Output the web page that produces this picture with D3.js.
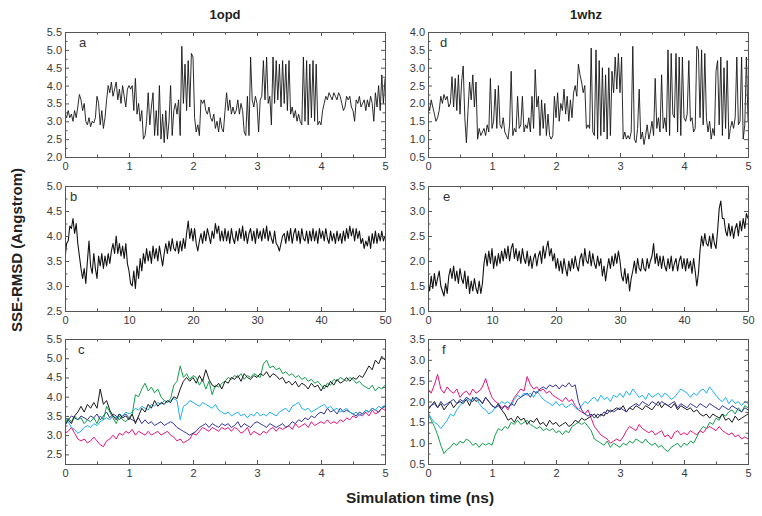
<!DOCTYPE html>
<html><head><meta charset="utf-8">
<script src="https://cdn.jsdelivr.net/npm/d3@7"></script>
<style>
html,body{margin:0;padding:0;background:#fff;}
svg{display:block;}
text{font-family:"Liberation Sans",Arial,sans-serif;}
</style></head>
<body>
<svg id="chart" width="762" height="516"></svg>
<script>
// ---------------- DATA ----------------
const columnTitles = ["1opd", "1whz"];
const panelLetters = ["a", "b", "c", "d", "e", "f"];
const yAxisLabel = "SSE-RMSD (Angstrom)";
const xAxisLabel = "Simulation time (ns)";

const xTicksShort = [0, 1, 2, 3, 4, 5];
const xTicksLong = [0, 10, 20, 30, 40, 50];
const yTicksA = [2.0, 2.5, 3.0, 3.5, 4.0, 4.5, 5.0, 5.5];
const yTicksB = [2.5, 3.0, 3.5, 4.0, 4.5, 5.0];
const yTicksC = [2.5, 3.0, 3.5, 4.0, 4.5, 5.0, 5.5];
const yTicksD = [0.5, 1.0, 1.5, 2.0, 2.5, 3.0, 3.5, 4.0];
const yTicksE = [1.0, 1.5, 2.0, 2.5, 3.0, 3.5];
const yTicksF = [0.5, 1.0, 1.5, 2.0, 2.5, 3.0, 3.5];

// panel a: 1opd, 0-5 ns (samples every 0.025 ns)
const seriesA = [3.2,3.1,3.3,3.1,3.2,3.0,3.3,3.1,3.4,3.75,3.6,3.3,3.5,3.0,2.9,3.1,2.85,3.0,2.95,3.1,
3.7,3.5,2.9,3.3,2.8,3.1,3.6,4.0,3.8,4.1,3.7,3.9,4.1,3.6,3.9,3.5,4.0,3.7,3.4,3.9,
4.0,3.9,4.0,3.3,4.2,3.2,3.5,3.0,3.3,2.5,2.6,3.0,3.8,2.9,3.4,3.8,2.6,3.3,2.6,4.0,
2.5,3.2,2.4,3.3,2.5,3.0,4.0,2.6,3.3,3.5,3.2,3.6,2.6,5.1,3.5,4.6,3.3,4.7,3.4,4.9,
4.8,3.1,2.7,2.9,2.6,3.6,3.5,3.6,3.3,3.2,3.4,3.1,3.0,3.2,2.8,3.0,2.7,3.1,2.8,2.7,
3.3,3.8,3.3,3.6,3.2,3.4,3.2,3.3,3.6,3.2,3.5,3.3,2.7,2.6,3.7,2.6,4.8,3.6,3.4,3.7,
3.5,2.7,3.6,3.7,4.7,3.6,4.8,3.5,3.7,2.9,4.8,3.5,4.7,3.6,4.6,3.4,4.7,3.5,4.6,3.3,
4.7,3.2,3.4,3.1,3.3,3.0,3.2,3.0,2.9,4.8,3.0,4.7,2.9,4.6,3.1,4.7,3.0,4.6,2.9,3.0,
2.9,3.3,3.5,3.7,3.6,3.8,3.7,3.6,3.8,3.7,3.6,3.8,3.7,3.5,3.3,3.4,3.7,3.6,3.7,3.4,
3.3,3.0,3.6,3.5,3.7,3.4,3.5,3.6,3.3,3.6,3.4,3.7,3.5,3.0,3.8,3.4,4.0,3.3,4.3,3.5,
4.2];

// panel d: 1whz, 0-5 ns (samples every 0.025 ns)
const seriesD = [2.0,1.8,2.1,1.9,1.7,1.5,1.6,1.8,2.2,2.0,2.25,2.1,2.2,1.9,2.0,2.75,1.9,2.7,1.8,2.8,
1.7,2.6,3.05,1.6,0.9,1.8,2.6,2.1,2.8,1.9,2.6,1.0,1.3,1.1,1.2,1.3,1.1,1.4,1.2,2.7,
1.3,1.5,2.4,1.3,2.5,1.4,1.3,1.6,1.2,1.1,1.0,1.4,2.9,1.1,1.3,1.2,2.2,1.3,1.4,2.2,
1.2,1.4,1.3,1.6,1.2,2.2,1.3,2.95,1.9,2.2,1.1,2.1,1.3,2.0,1.1,1.7,1.1,1.0,1.1,2.2,
1.6,2.3,1.5,2.0,1.8,2.4,1.7,2.2,1.5,2.1,1.6,2.3,2.5,2.2,3.1,2.8,2.6,2.3,2.5,1.3,
1.4,1.3,3.55,1.2,1.1,3.5,1.0,3.2,1.1,3.0,1.2,2.8,1.0,3.0,1.1,2.9,2.3,3.3,2.4,3.4,
2.3,3.3,1.0,1.2,1.0,1.1,1.0,1.2,3.6,1.0,0.9,1.3,2.4,1.0,1.2,0.85,1.1,1.4,1.0,1.2,
1.5,1.1,2.7,1.3,1.6,1.2,2.8,1.3,1.6,1.2,3.5,1.1,3.4,1.7,1.6,3.4,1.2,3.3,1.1,3.3,
1.6,1.5,1.7,3.2,1.5,1.6,1.2,1.3,3.6,3.5,1.6,3.5,1.4,3.4,1.6,1.2,1.5,1.0,1.3,1.1,
2.9,3.2,1.4,3.3,1.1,3.0,1.3,3.2,1.0,1.3,1.5,1.3,1.6,3.3,1.4,1.5,3.3,1.0,1.4,3.3,
1.5];

// panel b: 1opd, 0-50 ns (samples every 0.25 ns)
const seriesB = [3.55,3.85,3.9,4.2,4.15,4.35,4.05,4.25,3.85,
3.6,3.35,3.15,3.35,3.05,3.5,3.9,
3.4,3.25,3.65,3.35,3.15,3.6,3.4,3.65,3.35,3.6,3.4,3.65,3.45,3.7,
3.85,3.65,4.0,3.65,3.85,3.6,3.8,3.55,3.85,3.45,
3.3,3.05,3.0,3.3,2.95,3.4,3.15,3.55,3.3,3.65,
3.45,3.75,3.5,3.7,3.45,3.8,3.55,3.75,3.5,3.8,
3.6,3.4,3.65,3.85,3.65,3.9,3.7,3.95,3.75,3.7,3.9,3.65,3.9,3.7,3.95,3.75,4.05,4.3,3.95,4.15,
3.9,4.15,3.85,3.7,3.9,4.05,3.85,4.1,3.9,4.15,4.0,3.85,4.1,3.95,4.25,4.05,4.2,3.9,4.1,3.9,
4.15,3.9,4.1,3.85,4.15,3.95,3.85,4.1,3.9,4.15,3.95,4.2,3.9,4.1,3.85,4.05,4.15,3.9,4.1,3.85,
4.15,3.95,4.1,3.9,4.15,3.95,4.2,3.9,4.1,3.95,3.85,4.1,3.85,3.8,3.7,3.85,4.0,4.05,3.85,4.1,
3.9,4.15,3.85,4.05,4.15,3.9,4.1,3.85,4.15,3.95,3.9,4.1,3.85,4.1,3.9,4.15,3.9,4.1,3.85,4.15,
3.95,4.1,3.9,4.15,3.95,3.85,4.1,3.9,4.05,3.85,4.1,3.9,4.05,3.85,4.1,3.9,4.15,3.95,4.2,4.0,
4.15,3.9,4.15,3.95,4.1,3.85,3.95,3.75,3.9,3.8,4.0,3.75,4.05,3.85,4.1,3.85,4.05,3.9,4.1,3.9,4.0];

// panel e: 1whz, 0-50 ns (samples every 0.25 ns)
const seriesE = [1.6,1.4,1.7,1.45,1.75,1.5,1.65,1.8,1.5,1.4,1.3,1.55,1.35,1.7,1.85,1.65,1.9,1.6,1.8,1.55,
1.85,1.65,1.55,1.8,1.45,1.7,1.35,1.6,1.4,1.65,1.45,1.35,1.6,1.35,1.55,
1.95,2.15,1.9,2.2,1.95,2.25,1.85,2.1,1.9,2.15,1.95,2.2,2.0,2.25,2.05,2.3,2.0,2.25,2.35,2.05,
2.25,2.0,2.2,1.95,2.25,2.05,1.95,2.2,1.9,2.1,1.85,2.05,2.15,1.9,2.1,2.2,1.95,2.3,2.05,2.25,
2.4,2.1,2.25,2.0,2.15,
1.85,2.05,1.8,2.0,1.75,2.05,1.85,1.7,2.0,1.8,2.05,1.85,2.1,1.9,1.8,2.05,2.15,1.9,2.25,2.0,
1.95,2.2,1.9,2.15,1.95,1.85,2.1,1.9,2.05,1.7,1.9,1.6,1.85,2.05,1.85,2.1,1.9,2.15,1.95,2.2,
2.0,1.7,1.6,1.85,1.55,1.75,1.4,1.65,1.8,2.0,1.75,2.05,1.85,1.8,2.05,1.85,1.8,2.05,1.85,2.0,
2.1,2.35,1.95,2.15,1.9,2.1,1.85,2.1,1.9,1.8,2.05,1.85,2.1,1.8,1.95,2.05,1.8,2.0,2.1,1.85,
2.05,1.8,2.05,1.85,2.0,1.75,2.05,1.8,
1.5,1.75,2.2,2.5,2.3,2.55,2.35,2.3,2.5,2.25,2.55,2.35,2.25,2.6,3.05,3.2,2.85,2.85,2.6,2.5,
2.75,2.5,2.7,2.45,2.65,2.75,2.5,2.8,2.6,2.85,2.65,2.95,2.85];

// panel c: 1opd, five runs, 0-5 ns (samples every 0.05 ns)
const cBlack = [3.25,3.4,3.3,3.5,3.6,3.75,3.6,3.8,3.7,3.85,3.7,4.2,3.8,3.9,3.65,3.5,3.4,3.55,3.45,3.5,
3.4,3.55,3.3,3.5,3.7,3.6,3.8,3.7,3.9,3.75,3.85,3.8,3.9,3.85,4.0,3.95,4.2,4.4,4.5,4.4,
4.5,4.35,4.55,4.4,4.7,4.45,4.3,4.25,4.35,4.2,4.4,4.35,4.5,4.45,4.55,4.4,4.6,4.5,4.45,4.55,
4.5,4.6,4.55,4.65,4.5,4.6,4.55,4.45,4.5,4.35,4.4,4.3,4.4,4.25,4.35,4.3,4.2,4.35,4.25,4.3,
4.15,4.3,4.25,4.4,4.3,4.45,4.35,4.4,4.5,4.4,4.5,4.45,4.55,4.5,4.65,4.8,4.7,4.95,4.85,5.05,4.95];
const cGreen = [3.3,3.45,3.35,3.5,3.4,3.45,3.3,3.4,3.35,3.45,3.3,3.5,3.4,3.75,3.6,3.45,3.3,3.5,3.4,3.35,
3.45,3.55,4.05,4.0,4.2,4.35,4.15,4.25,4.1,4.2,4.0,3.9,3.85,3.95,4.3,4.4,4.8,4.5,4.6,4.45,
4.55,4.5,4.3,4.45,4.2,4.4,4.05,4.3,4.25,4.35,4.4,4.5,4.45,4.55,4.5,4.6,4.45,4.55,4.5,4.6,
4.55,4.5,4.85,4.95,4.75,4.8,4.7,4.75,4.6,4.65,4.55,4.6,4.5,4.55,4.45,4.5,4.4,4.45,4.35,4.4,
4.3,4.2,4.35,4.3,4.45,4.4,4.5,4.45,4.4,4.5,4.45,4.35,4.4,4.3,4.25,4.2,4.3,4.15,4.25,4.2,4.3];
const cCyan = [3.3,3.35,3.2,3.15,3.05,3.1,3.2,3.25,3.2,3.3,3.25,3.35,3.4,3.45,3.4,3.5,3.45,3.55,3.5,3.6,
3.55,3.6,3.7,3.65,3.75,3.7,3.65,3.8,3.75,3.85,3.8,3.9,3.85,3.9,3.95,3.9,3.4,3.75,3.8,3.9,
3.85,3.8,3.75,3.85,3.8,3.75,3.7,3.8,3.65,3.6,3.55,3.6,3.5,3.55,3.6,3.5,3.55,3.45,3.55,3.5,
3.6,3.5,3.55,3.5,3.6,3.55,3.5,3.6,3.65,3.7,3.6,3.75,3.8,3.85,3.7,3.65,3.7,3.6,3.65,3.7,
3.75,3.8,3.7,3.75,3.65,3.7,3.6,3.65,3.7,3.6,3.55,3.6,3.5,3.55,3.65,3.6,3.7,3.65,3.75,3.7,3.8];
const cNavy = [3.45,3.4,3.5,3.45,3.4,3.5,3.45,3.4,3.5,3.45,3.55,3.4,3.5,3.6,3.45,3.55,3.5,3.4,3.5,3.55,
3.45,3.4,3.35,3.45,3.3,3.4,3.3,3.35,3.25,3.3,3.35,3.25,3.3,3.35,3.3,3.2,3.15,3.1,3.05,3.0,
3.05,3.1,3.2,3.25,3.3,3.2,3.3,3.25,3.2,3.3,3.25,3.3,3.2,3.25,3.35,3.2,3.3,3.25,3.2,3.3,
3.35,3.3,3.25,3.2,3.3,3.25,3.2,3.25,3.3,3.2,3.25,3.35,3.3,3.4,3.35,3.45,3.4,3.5,3.45,3.55,
3.6,3.55,3.7,3.6,3.65,3.55,3.7,3.6,3.65,3.6,3.55,3.5,3.6,3.55,3.65,3.6,3.7,3.65,3.6,3.7,3.75];
const cMagenta = [3.05,3.1,3.2,3.05,2.9,2.85,2.9,2.8,2.85,2.95,2.85,2.75,2.7,2.85,2.9,3.0,2.9,3.05,3.0,3.1,
3.05,3.15,3.0,3.1,3.05,3.0,3.1,3.0,3.05,3.1,3.0,3.05,3.1,3.0,2.95,2.85,2.9,2.8,2.85,2.9,
3.05,3.0,3.1,3.2,3.15,3.1,3.2,3.15,3.1,3.2,3.15,3.2,3.1,3.2,3.15,3.05,3.1,3.2,3.0,3.1,
3.05,3.0,3.1,3.05,3.15,3.2,3.1,3.2,3.15,3.2,3.25,3.15,3.3,3.2,3.25,3.3,3.2,3.35,3.25,3.3,
3.35,3.3,3.4,3.3,3.35,3.3,3.4,3.35,3.45,3.4,3.5,3.45,3.55,3.5,3.6,3.5,3.65,3.55,3.6,3.7,3.65];

// panel f: 1whz, five runs, 0-5 ns (samples every 0.05 ns)
const fBlack = [1.8,1.9,2.0,1.85,1.95,1.8,1.9,2.0,1.85,1.95,2.0,1.95,2.05,1.9,2.1,2.0,2.05,1.95,2.1,2.0,
1.9,1.85,1.95,1.8,1.7,1.55,1.6,1.5,1.65,1.55,1.6,1.45,1.55,1.5,1.6,1.45,1.5,1.4,1.55,1.45,
1.5,1.4,1.45,1.5,1.4,1.45,1.55,1.5,1.6,1.55,1.6,1.65,1.7,1.6,1.7,1.65,1.8,1.75,1.8,1.85,
1.8,1.9,1.75,1.85,1.8,1.9,1.85,1.8,1.9,1.85,1.8,1.9,2.0,1.85,1.95,1.9,1.85,1.95,1.8,1.9,
1.85,1.8,1.85,1.75,1.8,1.7,1.65,1.7,1.6,1.7,1.65,1.6,1.7,1.55,1.6,1.5,1.65,1.55,1.6,1.65,1.7];
const fGreen = [1.7,1.55,1.4,1.2,0.95,0.75,0.85,0.9,1.0,0.95,1.05,1.0,1.1,1.05,0.95,1.0,0.9,1.0,0.95,1.0,
0.95,1.2,1.35,1.3,1.4,1.35,1.5,1.45,1.55,1.45,1.5,1.55,1.45,1.4,1.35,1.4,1.3,1.35,1.3,1.35,
1.25,1.3,1.2,1.3,1.25,1.4,1.45,1.5,1.45,1.5,1.4,1.3,1.1,1.05,1.0,0.95,1.05,0.9,1.0,0.95,
0.9,1.0,0.95,1.05,1.0,1.1,1.05,1.0,1.1,1.0,0.95,1.0,0.9,0.95,0.85,0.8,0.9,0.95,1.0,0.9,
1.0,0.95,1.05,1.0,1.15,1.3,1.4,1.35,1.5,1.45,1.6,1.55,1.7,1.65,1.75,1.8,1.7,1.85,1.75,1.9,1.85];
const fCyan = [1.75,1.6,1.5,1.45,1.35,1.45,1.55,1.7,1.65,1.8,1.9,2.0,2.1,2.0,2.05,2.1,1.95,1.85,1.8,1.7,
1.75,1.85,1.9,2.0,1.95,2.0,1.9,2.05,2.15,2.1,2.2,2.15,2.2,2.1,2.25,2.15,2.05,2.0,1.95,1.9,
2.0,1.9,1.95,1.85,1.9,1.95,1.85,1.8,1.9,2.0,1.95,2.05,2.1,2.0,2.15,2.05,2.1,2.0,2.15,2.1,
2.2,2.1,2.25,2.15,2.3,2.2,2.1,2.15,2.05,2.2,2.1,2.15,2.2,2.1,2.2,2.15,2.05,2.1,2.2,2.3,
2.25,2.2,2.1,2.2,2.15,2.25,2.3,2.2,2.35,2.25,2.15,2.05,2.0,2.1,1.95,2.05,1.95,2.0,1.9,2.0,1.95];
const fNavy = [1.85,1.9,1.95,1.85,2.0,1.9,1.95,2.0,2.05,1.95,2.05,2.0,2.1,2.05,2.0,2.1,2.05,1.95,2.1,2.0,
1.9,1.85,1.9,1.8,1.9,1.85,1.95,1.9,2.05,2.1,2.15,2.2,2.1,2.25,2.2,2.3,2.35,2.3,2.4,2.35,
2.4,2.3,2.4,2.35,2.45,2.35,2.4,2.0,1.8,1.7,1.65,1.7,1.6,1.7,1.65,1.75,1.7,1.8,1.75,1.8,
1.85,1.8,1.75,1.85,1.9,1.95,1.9,2.0,1.95,1.9,2.0,1.95,1.9,2.0,1.95,1.9,1.95,2.0,1.85,1.95,
1.9,1.85,1.95,1.9,1.85,1.95,1.9,1.85,1.95,1.9,1.85,1.8,1.9,1.85,1.8,1.9,1.85,1.8,1.75,1.85,1.8];
const fMagenta = [2.3,2.2,2.4,2.65,2.3,2.2,2.35,2.25,2.2,2.3,2.1,2.2,2.25,2.15,2.3,2.2,2.25,2.35,2.55,2.3,
2.1,2.0,1.95,1.85,1.9,1.8,1.95,2.1,2.2,2.3,2.25,2.6,2.4,2.3,2.35,2.25,2.3,2.2,2.25,2.15,
2.1,2.05,2.0,2.1,2.0,2.05,1.9,1.8,1.75,1.7,1.8,1.6,1.4,1.3,1.2,1.15,1.1,1.0,1.05,1.1,
1.05,1.15,1.3,1.4,1.35,1.3,1.45,1.35,1.3,1.25,1.3,1.2,1.25,1.3,1.15,1.2,1.1,1.25,1.3,1.2,
1.25,1.2,1.3,1.25,1.2,1.3,1.25,1.35,1.4,1.35,1.3,1.4,1.3,1.25,1.2,1.25,1.15,1.2,1.1,1.15,1.1];

const runColors = ["#1a1a1a", "#12a04a", "#1eb1ec", "#34349a", "#e6127f"];

// ---------------- DRAWING ----------------
const svg = d3.select("#chart");
const frameColor = "#555";
const labelColor = "#3a3a3a";

const panels = [
  {letter: panelLetters[0], x: [65, 385], y: [32, 157], xMax: 5, xTicks: xTicksShort, xMinorStep: 0.5, yDom: [2.0, 5.5], yTicks: yTicksA, series: [seriesA], colors: ["#151515"], sw: 0.9, lx: 79},
  {letter: panelLetters[1], x: [65, 385], y: [186, 311], xMax: 50, xTicks: xTicksLong, xMinorStep: 5, yDom: [2.5, 5.0], yTicks: yTicksB, series: [seriesB], colors: ["#111"], sw: 1.1, lx: 70},
  {letter: panelLetters[2], x: [65, 385], y: [339, 464], xMax: 5, xTicks: xTicksShort, xMinorStep: 0.5, yDom: [2.25, 5.5], yTicks: yTicksC, series: [cMagenta, cNavy, cCyan, cGreen, cBlack], colors: [runColors[4], runColors[3], runColors[2], runColors[1], runColors[0]], sw: 1.0, lx: 78},
  {letter: panelLetters[3], x: [428, 748], y: [32, 157], xMax: 5, xTicks: xTicksShort, xMinorStep: 0.5, yDom: [0.5, 4.0], yTicks: yTicksD, series: [seriesD], colors: ["#151515"], sw: 0.9, lx: 440},
  {letter: panelLetters[4], x: [428, 748], y: [186, 311], xMax: 50, xTicks: xTicksLong, xMinorStep: 5, yDom: [1.0, 3.5], yTicks: yTicksE, series: [seriesE], colors: ["#111"], sw: 1.1, lx: 443},
  {letter: panelLetters[5], x: [428, 748], y: [339, 464], xMax: 5, xTicks: xTicksShort, xMinorStep: 0.5, yDom: [0.5, 3.5], yTicks: yTicksF, series: [fGreen, fMagenta, fBlack, fCyan, fNavy], colors: [runColors[1], runColors[4], runColors[0], runColors[2], runColors[3]], sw: 1.0, lx: 442}
];

panels.forEach((p, pi) => {
  const g = svg.append("g");
  const x = d3.scaleLinear().domain([0, p.xMax]).range(p.x);
  const y = d3.scaleLinear().domain(p.yDom).range([p.y[1], p.y[0]]);
  const clipId = "clip" + pi;
  g.append("clipPath").attr("id", clipId).append("rect")
    .attr("x", p.x[0]).attr("y", p.y[0]).attr("width", p.x[1] - p.x[0]).attr("height", p.y[1] - p.y[0]);

  const lg = g.append("g").attr("clip-path", `url(#${clipId})`);
  p.series.forEach((s, si) => {
    const xi = d3.scaleLinear().domain([0, s.length - 1]).range([0, p.xMax]);
    const line = d3.line().x((d, i) => x(xi(i))).y(d => y(d));
    lg.append("path").datum(s)
      .attr("fill", "none")
      .attr("stroke", p.colors[si])
      .attr("stroke-width", p.sw)
      .attr("stroke-linejoin", "round")
      .attr("d", line);
  });

  const xMinor = d3.range(p.xMinorStep, p.xMax, p.xMinorStep * 2);
  const yStep = 0.25;
  const yMinor = d3.range(Math.ceil(p.yDom[0] / yStep) * yStep, p.yDom[1] + 1e-9, yStep)
    .filter(v => Math.abs(v * 2 - Math.round(v * 2)) > 1e-6);

  const styleAxis = sel => {
    sel.select(".domain").remove();
    sel.selectAll("line").attr("stroke", frameColor);
    sel.selectAll("text").attr("fill", labelColor).style("font-size", "11px")
      .style("font-family", "'Liberation Sans', Arial, sans-serif");
  };

  g.append("g").attr("transform", `translate(0,${p.y[1]})`)
    .call(d3.axisBottom(x).tickValues(p.xTicks).tickSize(-4).tickPadding(5).tickFormat(d3.format("d")))
    .call(styleAxis);
  g.append("g").attr("transform", `translate(0,${p.y[1]})`)
    .call(d3.axisBottom(x).tickValues(xMinor).tickSize(-2.5).tickFormat(""))
    .call(styleAxis);
  g.append("g").attr("transform", `translate(0,${p.y[0]})`)
    .call(d3.axisTop(x).tickValues(p.xTicks).tickSize(-4).tickFormat(""))
    .call(styleAxis);
  g.append("g").attr("transform", `translate(0,${p.y[0]})`)
    .call(d3.axisTop(x).tickValues(xMinor).tickSize(-2.5).tickFormat(""))
    .call(styleAxis);
  g.append("g").attr("transform", `translate(${p.x[0]},0)`)
    .call(d3.axisLeft(y).tickValues(p.yTicks).tickSize(-4).tickPadding(3).tickFormat(d3.format(".1f")))
    .call(styleAxis);
  g.append("g").attr("transform", `translate(${p.x[0]},0)`)
    .call(d3.axisLeft(y).tickValues(yMinor).tickSize(-2.5).tickFormat(""))
    .call(styleAxis);
  g.append("g").attr("transform", `translate(${p.x[1]},0)`)
    .call(d3.axisRight(y).tickValues(p.yTicks).tickSize(-4).tickFormat(""))
    .call(styleAxis);
  g.append("g").attr("transform", `translate(${p.x[1]},0)`)
    .call(d3.axisRight(y).tickValues(yMinor).tickSize(-2.5).tickFormat(""))
    .call(styleAxis);

  g.append("rect")
    .attr("x", p.x[0] + 0.5).attr("y", p.y[0] + 0.5)
    .attr("width", p.x[1] - p.x[0]).attr("height", p.y[1] - p.y[0])
    .attr("fill", "none").attr("stroke", frameColor).attr("stroke-width", 1);

  g.append("text").attr("x", p.lx).attr("y", p.y[0] + 15)
    .attr("fill", "#333").style("font-size", "13px").text(p.letter);
});

svg.append("text").attr("x", 225).attr("y", 19).attr("text-anchor", "middle")
  .style("font-size", "13px").style("font-weight", "bold").attr("fill", "#222").text(columnTitles[0]);
svg.append("text").attr("x", 586).attr("y", 19).attr("text-anchor", "middle")
  .style("font-size", "13px").style("font-weight", "bold").attr("fill", "#222").text(columnTitles[1]);

svg.append("text").attr("transform", "translate(22,250) rotate(-90)").attr("text-anchor", "middle")
  .style("font-size", "15px").style("font-weight", "bold").attr("fill", "#222").text(yAxisLabel);
svg.append("text").attr("x", 420).attr("y", 503).attr("text-anchor", "middle")
  .style("font-size", "15.5px").style("font-weight", "bold").attr("fill", "#222").text(xAxisLabel);
</script>
</body></html>
